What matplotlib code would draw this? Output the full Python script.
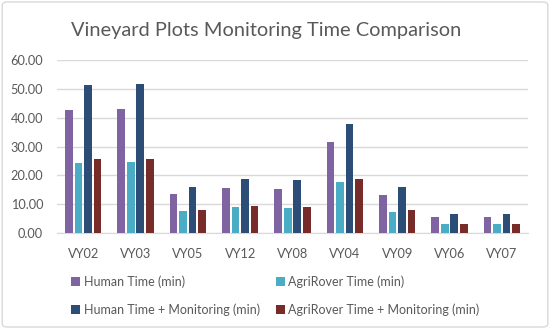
import matplotlib
matplotlib.use("Agg")
import matplotlib.pyplot as plt
import numpy as np
from matplotlib.patches import FancyBboxPatch

categories = ["VY02", "VY03", "VY05", "VY12", "VY08", "VY04", "VY09", "VY06", "VY07"]
human = [42.8, 43.1, 13.4, 15.6, 15.2, 31.5, 13.1, 5.4, 5.4]
agrirover = [24.4, 24.6, 7.6, 8.9, 8.7, 17.8, 7.3, 3.0, 3.0]
human_mon = [51.4, 51.8, 16.1, 18.9, 18.3, 37.8, 15.9, 6.6, 6.5]
agrirover_mon = [25.7, 25.8, 8.0, 9.4, 9.0, 18.8, 7.9, 3.2, 3.2]
series_names = ["Human Time (min)", "AgriRover Time (min)",
                "Human Time + Monitoring (min)", "AgriRover Time + Monitoring (min)"]
colors = ["#8064A2", "#4BACC6", "#2C4D75", "#772C2A"]
yticks = [0, 10, 20, 30, 40, 50, 60]

plt.rcParams['font.family'] = ['Lato', 'DejaVu Sans']

fig = plt.figure(figsize=(5.5, 3.29), dpi=100)
fig.patch.set_facecolor("white")
border = FancyBboxPatch((0.004, 0.006), 0.992, 0.988, boxstyle="round,pad=0,rounding_size=0.01",
                        transform=fig.transFigure, facecolor="none", edgecolor="#D9D9D9", linewidth=1)
fig.patches.append(border)

ax = fig.add_axes([57/550, 1-233/329, (528-57)/550, (233-60.3)/329])
x = np.arange(len(categories))
bw = 0.146
step = 0.184
data = [human, agrirover, human_mon, agrirover_mon]
for i, (vals, c, name) in enumerate(zip(data, colors, series_names)):
    ax.bar(x + (i - 1.5) * step, vals, width=bw, color=c, label=name, zorder=3)

ax.set_xlim(-0.5, len(categories) - 0.5)
ax.set_ylim(0, 60)
ax.set_yticks(yticks)
ax.set_yticklabels([f"{v:.2f}" for v in yticks])
ax.set_xticks(x)
ax.set_xticklabels(categories)
ax.grid(axis="y", color="#D9D9D9", linewidth=1, zorder=0)
for s in ["top", "right", "left"]:
    ax.spines[s].set_visible(False)
ax.spines["bottom"].set_color("#D9D9D9")
ax.tick_params(axis="both", length=0, colors="#595959", labelsize=9.2)
ax.tick_params(axis="x", pad=11)
ax.tick_params(axis="y", pad=10)

fig.text(0.483, 0.907, "Vineyard Plots Monitoring Time Comparison", ha="center", va="center",
         fontsize=14.4, color="#595959")

handles, labels = ax.get_legend_handles_labels()
order = [0, 2, 1, 3]
leg = fig.legend([handles[i] for i in order], [labels[i] for i in order],
                 loc="upper left", bbox_to_anchor=(71/550, 1-275/329), ncol=2,
                 frameon=False, fontsize=9.0, handlelength=0.7, handleheight=0.7,
                 handletextpad=0.3, columnspacing=1.3, labelspacing=1.25, labelcolor="#595959",
                 borderaxespad=0, borderpad=0)

fig.savefig("out.png", dpi=100)
